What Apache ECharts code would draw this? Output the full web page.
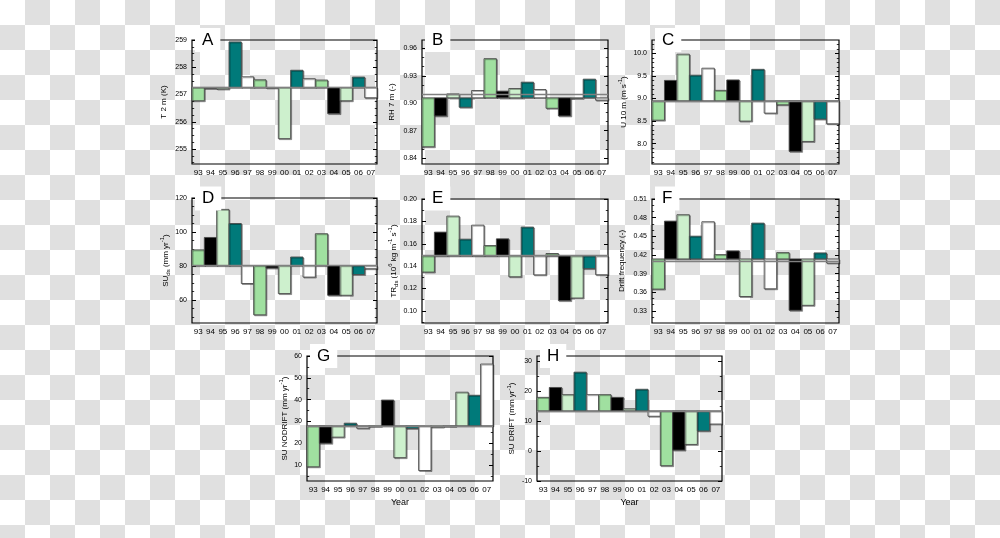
<!DOCTYPE html>
<html><head><meta charset="utf-8">
<script src="https://cdn.jsdelivr.net/npm/echarts@6/dist/echarts.min.js"></script>
<style>
html,body{margin:0;padding:0;}
body{width:1000px;height:538px;background-color:#fff;background-image:conic-gradient(#e0e0e0 0 25%, #fff 0 50%, #e0e0e0 0 75%, #fff 0);background-size:50px 50px;}
#c{width:1000px;height:538px;}
</style></head><body><div id="c"></div>
<script>
// ---- data ----
const years = ['93','94','95','96','97','98','99','00','01','02','03','04','05','06','07'];

const t2m = [256.77, 257.22, 257.20, 258.93, 257.65, 257.54, 257.24, 255.38, 257.89, 257.58, 257.53, 256.30, 256.77, 257.64, 256.88];
const t2mBase = 257.26;
const t2mTicks = [255, 256, 257, 258, 259];

const rh = [0.8524, 0.8861, 0.9102, 0.8956, 0.9139, 0.9487, 0.9132, 0.9161, 0.9230, 0.9150, 0.8945, 0.8861, 0.9055, 0.9263, 0.9033];
const rhBase = 0.9059;
const rhTicks = [0.84, 0.87, 0.90, 0.93, 0.96];

const u10 = [8.52, 9.40, 9.98, 9.515, 9.67, 9.18, 9.41, 8.50, 9.645, 8.676, 8.86, 7.83, 8.05, 8.544, 8.44];
const u10Base = 8.949;
const u10Ticks = [8.0, 8.5, 9.0, 9.5, 10.0];

const suds = [89.5, 96.8, 113.3, 105.0, 69.7, 51.3, 78.8, 63.8, 85.3, 73.5, 99.0, 62.8, 62.8, 75.0, 78.4];
const sudsBase = 80.2;
const sudsTicks = [60, 80, 100, 120];

const trds = [0.1347, 0.1704, 0.1847, 0.1641, 0.1766, 0.1584, 0.1644, 0.1305, 0.1749, 0.1322, 0.1513, 0.1092, 0.1115, 0.1378, 0.1323];
const trdsBase = 0.1491;
const trdsTicks = [0.10, 0.12, 0.14, 0.16, 0.18, 0.20];

const drift = [0.3651, 0.4744, 0.4847, 0.4502, 0.4734, 0.4206, 0.4265, 0.3532, 0.4712, 0.3656, 0.4238, 0.331, 0.339, 0.4233, 0.407];
const driftBase = 0.4136;
const driftTicks = [0.33, 0.36, 0.39, 0.42, 0.45, 0.48, 0.51];

const suNoDrift = [9.2, 20.0, 22.8, 29.2, 26.9, 27.8, 39.8, 13.4, 26.8, 7.5, 27.4, 27.7, 43.4, 42.0, 56.3];
const suNoDriftBase = 28.0;
const suNoDriftTicks = [10, 20, 30, 40, 50, 60];

const suDrift = [17.9, 21.2, 18.8, 26.3, 18.8, 18.8, 17.9, 14.1, 20.6, 11.6, -4.9, 0.3, 2.2, 6.7, 9.0];
const suDriftBase = 13.4;
const suDriftTicks = [-10, 0, 10, 20, 30];

// ---- styling / layout ----
const barColors = ['#a0e0a0', '#000000', '#cdf0cd', '#007a7a', '#ffffff'];
const FONT = 'Liberation Sans, Arial, sans-serif';

const panels = [
  {letter:'A', name:'T 2 m (K)', values:t2m, base:t2mBase, ticks:t2mTicks, minor:0.25, min:254.45, max:259, dec:0, box:[192,40,185,124], gap:22, ltop:28},
  {letter:'B', name:'RH 7 m (-)', values:rh, base:rhBase, ticks:rhTicks, minor:0.01, min:0.8336, max:0.9691, dec:2, box:[422,40,186,124], gap:24, ltop:28},
  {letter:'C', name:'U 10 m (m s{sup|-1})', values:u10, base:u10Base, ticks:u10Ticks, minor:0.1, min:7.551, max:10.294, dec:1, box:[652,40,187,124], gap:22, ltop:28},
  {letter:'D', name:'SU{sub|ds} (mm yr{sup|-1})', values:suds, base:sudsBase, ticks:sudsTicks, minor:5, min:46.5, max:120, dec:0, box:[192,198,185,125], gap:20, ltop:186.5},
  {letter:'E', name:'TR{sub|ds} (10{sup|6} kg m{sup|-1} s{sup|-1})', values:trds, base:trdsBase, ticks:trdsTicks, minor:0.01, min:0.0892, max:0.2, dec:2, box:[422,199,186,124], gap:22, ltop:186.5},
  {letter:'F', name:'Drift frequency (-)', values:drift, base:driftBase, ticks:driftTicks, minor:0.01, min:0.3106, max:0.51, dec:2, box:[652,199,187,124], gap:24, ltop:186.5},
  {letter:'G', name:'SU NODRIFT (mm yr{sup|-1})', values:suNoDrift, base:suNoDriftBase, ticks:suNoDriftTicks, minor:5, min:2.7, max:60, dec:0, box:[307,356,186,125], gap:16, ltop:344, year:true},
  {letter:'H', name:'SU DRIFT (mm yr{sup|-1})', values:suDrift, base:suDriftBase, ticks:suDriftTicks, minor:5, min:-10, max:31.7, dec:0, box:[537,356,185,125], gap:19, ltop:344, year:true}
];

function minorValues(p) {
  const out = [];
  const n = Math.floor((p.max - p.min) / p.minor) + 2;
  const start = Math.ceil(p.min / p.minor - 1e-6);
  for (let k = 0; k < n; k++) {
    const v = Math.round((start + k) * p.minor * 1e6) / 1e6;
    if (v >= p.min - 1e-9 && v <= p.max + 1e-9) out.push(v);
  }
  return out;
}

const grid = [], xAxis = [], yAxis = [], series = [], title = [];
const richStyles = {
  sub: {fontSize: 6, fontFamily: FONT, color: '#000', verticalAlign: 'bottom', lineHeight: 12},
  sup: {fontSize: 6, fontFamily: FONT, color: '#000', verticalAlign: 'top', lineHeight: 12}
};

panels.forEach((p, k) => {
  const [l, t, w, h] = p.box;
  grid.push({left: l, top: t, width: w, height: h, show: true, borderColor: '#000', borderWidth: 1.2,
    backgroundColor: 'transparent', containLabel: false, outerBoundsMode: 'none'});
  xAxis.push({
    gridIndex: k, type: 'category', data: years,
    axisLine: {show: false}, axisTick: {show: false}, splitLine: {show: false},
    axisLabel: {interval: 0, fontSize: 8, margin: 5, color: '#000', fontFamily: FONT},
    name: p.year ? 'Year' : '', nameLocation: 'middle', nameGap: 17,
    nameTextStyle: {fontSize: 9, color: '#000', fontFamily: FONT}
  });
  const minors = minorValues(p);
  const common = {gridIndex: k, type: 'value', min: p.min, max: p.max, splitLine: {show: false}, axisLine: {show: false}};
  yAxis.push(Object.assign({}, common, {
    position: 'left',
    axisTick: {show: true, inside: true, length: 4, customValues: p.ticks, lineStyle: {color: '#000', width: 1}},
    axisLabel: {show: true, customValues: p.ticks, fontSize: 7, margin: 5, color: '#000', fontFamily: FONT,
      formatter: v => Number(v).toFixed(p.dec)},
    name: p.name, nameLocation: 'middle', nameGap: p.gap, nameRotate: 90,
    nameTextStyle: {fontSize: 8, color: '#000', fontFamily: FONT, lineHeight: 12, rich: richStyles}
  }));
  yAxis.push(Object.assign({}, common, {
    position: 'left',
    axisTick: {show: true, inside: true, length: 2.2, customValues: minors, lineStyle: {color: '#000', width: 0.8}},
    axisLabel: {show: false}
  }));
  yAxis.push(Object.assign({}, common, {
    position: 'right',
    axisTick: {show: true, inside: true, length: 4, customValues: p.ticks, lineStyle: {color: '#000', width: 1}},
    axisLabel: {show: false}
  }));
  yAxis.push(Object.assign({}, common, {
    position: 'right',
    axisTick: {show: true, inside: true, length: 2.2, customValues: minors, lineStyle: {color: '#000', width: 0.8}},
    axisLabel: {show: false}
  }));
  const base = p.base;
  series.push({
    type: 'custom', xAxisIndex: k, yAxisIndex: k * 4,
    data: p.values.map((v, i) => [i, v]),
    animation: false,
    renderItem: (params, api) => {
      const i = api.value(0), v = api.value(1);
      const p0 = api.coord([i, base]);
      const p1 = api.coord([i, v]);
      const bw = api.size([1, 0])[0];
      const y0 = Math.min(p0[1], p1[1]);
      const hh = Math.max(Math.abs(p1[1] - p0[1]), 0.6);
      return {
        type: 'rect',
        shape: {x: p0[0] - bw / 2, y: y0, width: bw, height: hh},
        style: {fill: barColors[i % barColors.length], stroke: '#4a4a4a', lineWidth: 0.9,
          shadowColor: 'rgba(0,0,0,0.35)', shadowOffsetX: 1, shadowOffsetY: 1, shadowBlur: 0}
      };
    },
    markLine: {
      silent: true, symbol: 'none', animation: false,
      label: {show: false},
      lineStyle: {color: '#808080', width: 1.4, type: 'solid'},
      data: [{yAxis: base}]
    }
  });
  title.push({
    text: p.letter, left: l + 3, top: p.ltop,
    padding: [3, 7, 3, 7], backgroundColor: '#fff',
    textStyle: {fontSize: 17, fontWeight: 'normal', color: '#000', fontFamily: FONT, lineHeight: 18}
  });
});

const chart = echarts.init(document.getElementById('c'), null, {renderer: 'canvas'});
chart.setOption({
  backgroundColor: 'transparent',
  animation: false,
  title, grid, xAxis, yAxis, series
});
</script>
</body></html>
